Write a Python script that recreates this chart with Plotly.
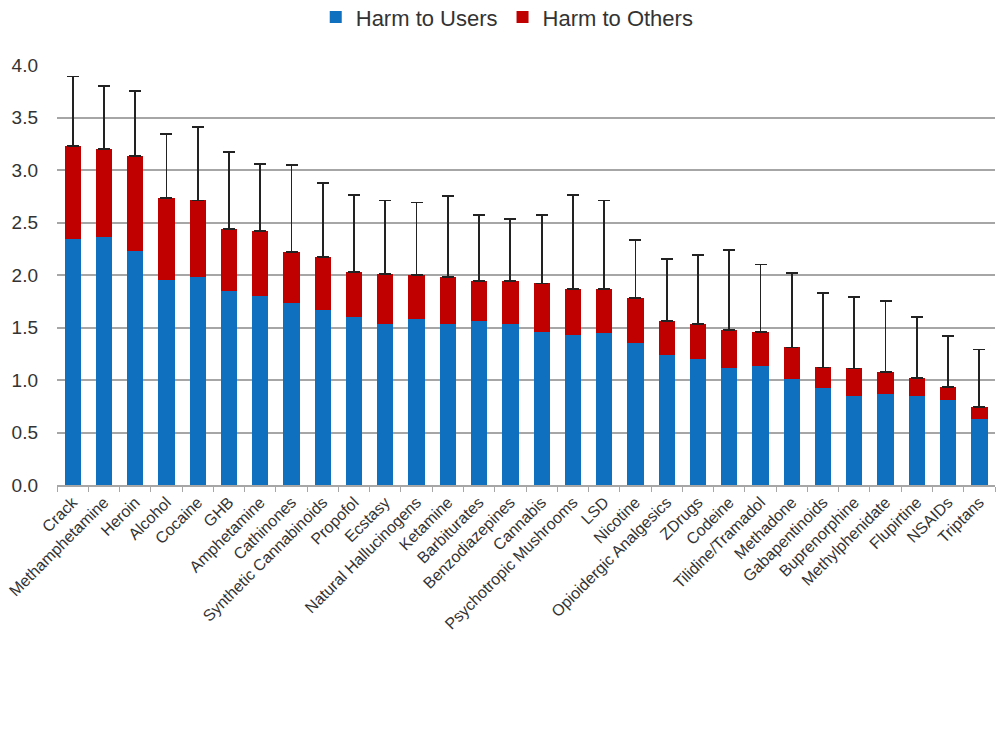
import plotly.graph_objects as go

drugs = ["Crack", "Methamphetamine", "Heroin", "Alcohol", "Cocaine", "GHB", "Amphetamine",
         "Cathinones", "Synthetic Cannabinoids", "Propofol", "Ecstasy", "Natural Hallucinogens",
         "Ketamine", "Barbiturates", "Benzodiazepines", "Cannabis", "Psychotropic Mushrooms",
         "LSD", "Nicotine", "Opioidergic Analgesics", "ZDrugs", "Codeine", "Tilidine/Tramadol",
         "Methadone", "Gabapentinoids", "Buprenorphine", "Methylphenidate", "Flupirtine",
         "NSAIDs", "Triptans"]

harm_users = [2.34, 2.36, 2.23, 1.95, 1.98, 1.85, 1.80, 1.73, 1.67, 1.60, 1.53, 1.58,
              1.53, 1.56, 1.53, 1.46, 1.43, 1.45, 1.35, 1.24, 1.20, 1.11, 1.13, 1.01,
              0.92, 0.85, 0.87, 0.85, 0.81, 0.63]

total_harm = [3.23, 3.20, 3.13, 2.73, 2.71, 2.44, 2.42, 2.22, 2.17, 2.03, 2.01, 2.00,
              1.98, 1.94, 1.94, 1.92, 1.87, 1.87, 1.78, 1.56, 1.53, 1.48, 1.46, 1.31,
              1.12, 1.11, 1.08, 1.02, 0.93, 0.74]

error_top = [3.89, 3.80, 3.75, 3.34, 3.41, 3.17, 3.06, 3.05, 2.88, 2.76, 2.71, 2.69,
             2.75, 2.57, 2.53, 2.57, 2.76, 2.71, 2.33, 2.15, 2.19, 2.24, 2.10, 2.02,
             1.83, 1.79, 1.75, 1.60, 1.42, 1.29]

harm_others = [round(t - u, 3) for t, u in zip(total_harm, harm_users)]
err_plus = [round(e - t, 3) for e, t in zip(error_top, total_harm)]
err_minus = [0] * len(drugs)

fig = go.Figure()
fig.add_trace(go.Bar(x=drugs, y=harm_users, name="Harm to Users",
                     marker=dict(color="#1070c0", line=dict(width=0))))
fig.add_trace(go.Bar(x=drugs, y=harm_others, name="Harm to Others",
                     marker=dict(color="#c00000", line=dict(width=0)),
                     error_y=dict(type="data", symmetric=False, array=err_plus,
                                  arrayminus=err_minus, color="#222222",
                                  thickness=1.8, width=6)))

fig.update_layout(
    barmode="stack",
    bargap=0.48,
    width=1000, height=750,
    margin=dict(l=57, r=5, t=65, b=265, autoexpand=False),
    paper_bgcolor="white", plot_bgcolor="white",
    font=dict(family="Liberation Sans, Arial, sans-serif", color="#333333"),
    legend=dict(orientation="h", x=0.48, xanchor="center",
                yref="container", y=0.977, yanchor="middle",
                font=dict(size=22, color="#333333"), itemwidth=30,
                traceorder="normal"),
    showlegend=True,
)
fig.update_yaxes(range=[0, 4.0], dtick=0.5, tickformat=".1f",
                 showgrid=True, gridcolor="#a6a6a6", gridwidth=1.5,
                 zeroline=False, showline=False, ticks="",
                 ticklabelstandoff=18,
                 tickfont=dict(size=19, color="#333333"))
fig.update_xaxes(tickangle=-45, tickfont=dict(size=16, color="#333333"),
                 showline=True, linecolor="#a6a6a6", linewidth=1.5,
                 ticks="outside", tickson="boundaries", ticklen=5,
                 tickcolor="#a6a6a6", showgrid=False)

fig.write_html("out.html")
